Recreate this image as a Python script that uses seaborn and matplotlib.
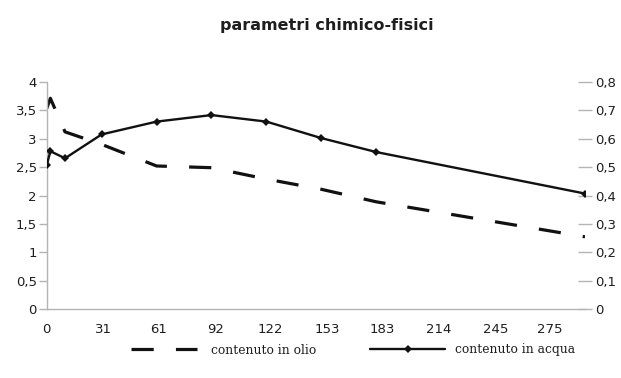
import matplotlib
matplotlib.use("Agg")
import matplotlib.pyplot as plt
import seaborn as sns
import pandas as pd
from matplotlib.ticker import FuncFormatter, FixedLocator, MultipleLocator

# ---- data ----
days = [0, 2, 10, 30, 60, 90, 120, 150, 180, 294]
olio = [3.53, 3.71, 3.12, 2.90, 2.52, 2.49, 2.29, 2.11, 1.89, 1.275]
acqua = [0.506, 0.556, 0.531, 0.615, 0.660, 0.683, 0.660, 0.602, 0.553, 0.407]
x_ticks = [0, 31, 61, 92, 122, 153, 183, 214, 245, 275]
title = "parametri chimico-fisici"
label_olio = "contenuto in olio"
label_acqua = "contenuto in acqua"

sns.set_style("white")
plt.rcParams['font.family'] = ['DejaVu Sans']
plt.rcParams['lines.scale_dashes'] = False

df = pd.DataFrame({"giorni": days, "olio": olio, "acqua": acqua})

fig = plt.figure(figsize=(6.21, 3.78), dpi=100)
ax = fig.add_axes([0.0752, 0.1817, 0.942 - 0.0752, 0.7836 - 0.1817])
ax2 = ax.twinx()

grey = "#b4b4b4"
txt = "#1e1e1e"

sns.lineplot(data=df, x="giorni", y="olio", ax=ax, color="#111111", lw=2.3,
             linestyle=(0, (16, 16)), label=label_olio, legend=False)
sns.lineplot(data=df, x="giorni", y="acqua", ax=ax2, color="#111111", lw=1.7,
             marker="D", markersize=3.6, markeredgewidth=0, label=label_acqua, legend=False)

ax.set_xlim(0, 294)
ax.set_ylim(0, 4)
ax2.set_ylim(0, 0.8)
ax.xaxis.set_major_locator(FixedLocator(x_ticks))
ax.yaxis.set_major_locator(MultipleLocator(0.5))
ax2.yaxis.set_major_locator(MultipleLocator(0.1))

def comma(v, pos):
    s = ("%.1f" % v).rstrip("0").rstrip(".")
    return s.replace(".", ",")

ax.yaxis.set_major_formatter(FuncFormatter(comma))
ax2.yaxis.set_major_formatter(FuncFormatter(comma))
ax.xaxis.set_major_formatter(FuncFormatter(lambda v, p: "%d" % v))

ax.set_xlabel("")
ax.set_ylabel("")
ax2.set_ylabel("")

for a in (ax, ax2):
    for s in a.spines.values():
        s.set_visible(False)
ax.spines["left"].set_visible(True)
ax.spines["bottom"].set_visible(True)
ax.spines["left"].set_color(grey)
ax.spines["bottom"].set_color(grey)
ax.spines["left"].set_linewidth(1.0)
ax.spines["bottom"].set_linewidth(1.0)

ax.tick_params(axis="y", direction="out", length=5.5, width=1, color=grey, pad=1.5,
               labelsize=9.5, labelcolor=txt)
ax.tick_params(axis="x", direction="out", length=5.5, width=1, color="#dddddd", pad=4,
               labelsize=9.5, labelcolor=txt)
ax2.tick_params(axis="y", direction="inout", length=10, width=1, color=grey, pad=2,
                labelsize=9.5, labelcolor=txt)

fig.text(0.527, 0.932, title, ha="center", va="center", fontsize=11.5, fontweight="bold",
         color=txt)

h1 = ax.get_lines()[0]
h2 = ax2.get_lines()[0]
prop = {"family": "DejaVu Serif", "size": 8.8}
leg1 = fig.legend([h1], [label_olio], loc="center left",
                  bbox_to_anchor=(131 / 621, 1 - 350 / 378), frameon=False,
                  handlelength=66 / 12.2, handletextpad=1.1, borderpad=0,
                  borderaxespad=0, prop=prop)
leg2 = fig.legend([h2], [label_acqua], loc="center left",
                  bbox_to_anchor=(370 / 621, 1 - 350 / 378), frameon=False,
                  handlelength=75 / 12.2, handletextpad=0.8, borderpad=0,
                  borderaxespad=0, prop=prop)
for lg in (leg1, leg2):
    for t in lg.get_texts():
        t.set_color(txt)

fig.savefig("out.png", dpi=100)
